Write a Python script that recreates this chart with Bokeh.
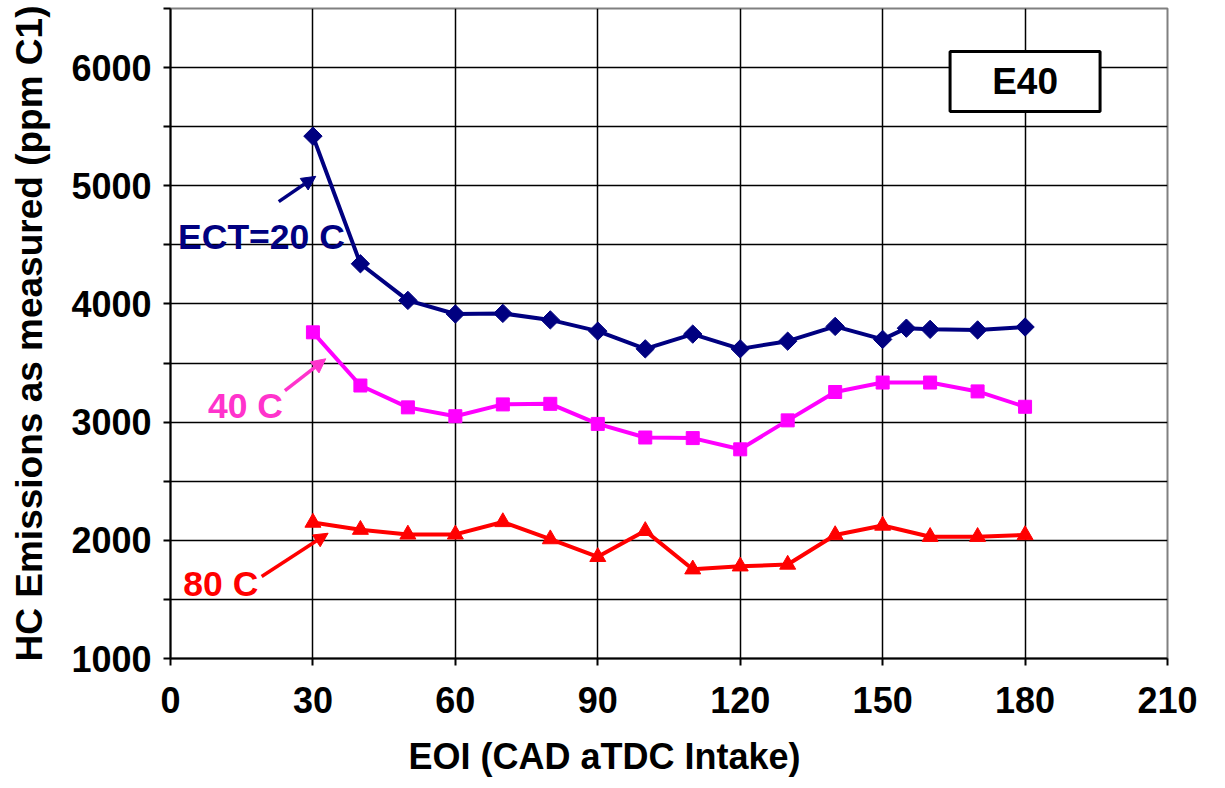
import numpy as np
from bokeh.plotting import figure
from bokeh.models import Range1d, FixedTicker, Arrow, NormalHead, Title
from bokeh.core.properties import value
from bokeh.embed import file_html
from bokeh.resources import INLINE

# HC emissions vs end of injection, for three coolant temperatures (E40 fuel)
eoi_20 = [30, 40, 50, 60, 70, 80, 90, 100, 110, 120, 130, 140, 150, 155, 160, 170, 180]
hc_20 = [5420, 4340, 4030, 3915, 3920, 3865, 3770, 3620, 3745, 3620, 3685, 3810, 3700, 3795, 3785, 3780, 3805]

eoi_40 = [30, 40, 50, 60, 70, 80, 90, 100, 110, 120, 130, 140, 150, 160, 170, 180]
hc_40 = [3760, 3310, 3125, 3050, 3150, 3155, 2985, 2870, 2865, 2770, 3015, 3255, 3335, 3335, 3260, 3130]

eoi_80 = [30, 40, 50, 60, 70, 80, 90, 100, 110, 120, 130, 140, 150, 160, 170, 180]
hc_80 = [2150, 2090, 2050, 2050, 2155, 2010, 1860, 2080, 1755, 1780, 1795, 2045, 2125, 2030, 2030, 2045]

x_ticks = [0, 30, 60, 90, 120, 150, 180, 210]
y_ticks = [1000, 2000, 3000, 4000, 5000, 6000]
y_minor = [1500, 2500, 3500, 4500, 5500, 6500]

series_labels = ["ECT=20 C", "40 C", "80 C"]
fuel_label = "E40"
x_title = "EOI (CAD aTDC Intake)"
y_title = "HC Emissions as measured (ppm C1)"

FONT = value("Liberation Sans")
NAVY = "#000080"
MAGENTA = "#FF00FF"
PINK = "#FF33CC"
RED = "#FF0000"

p = figure(
    frame_width=997, frame_height=650,
    min_border_left=170, min_border_right=58, min_border_top=8, min_border_bottom=130,
    x_range=Range1d(0, 210), y_range=Range1d(1000, 6500),
    output_backend="svg", toolbar_location=None,
)
p.background_fill_color = "white"
p.border_fill_color = "white"
p.outline_line_color = "#808080"
p.outline_line_width = 2

# axes
p.xaxis.ticker = FixedTicker(ticks=x_ticks)
p.yaxis.ticker = FixedTicker(ticks=y_ticks, minor_ticks=y_minor)
for ax in (p.xaxis, p.yaxis):
    ax.axis_line_color = "black"
    ax.axis_line_width = 2
    ax.major_tick_line_color = "black"
    ax.major_tick_line_width = 2
    ax.major_tick_out = 7
    ax.major_tick_in = 0
    ax.major_label_text_font = "Liberation Sans"
    ax.major_label_text_font_style = "bold"
    ax.major_label_text_font_size = "36px"
    ax.major_label_text_color = "black"
    ax.axis_label_text_font = "Liberation Sans"
    ax.axis_label_text_font_style = "bold"
    ax.axis_label_text_font_size = "37px"
    ax.axis_label_text_color = "black"
p.xaxis.major_label_standoff = 21
p.yaxis.major_label_standoff = 12
p.xaxis.minor_tick_line_color = None
p.yaxis.minor_tick_line_color = "black"
p.yaxis.minor_tick_line_width = 2
p.yaxis.minor_tick_out = 7
p.yaxis.minor_tick_in = 0
p.yaxis.axis_label = y_title
p.yaxis.axis_label_standoff = 18

# x-axis title, set a little left of the frame centre
p.add_layout(Title(text=x_title, align="left", offset=238, standoff=37,
                   text_font="Liberation Sans", text_font_style="bold",
                   text_font_size="36px", text_color="black"), "below")

# grid
p.xgrid.grid_line_color = "black"
p.xgrid.grid_line_width = 1.5
p.ygrid.grid_line_color = "black"
p.ygrid.grid_line_width = 1.5
p.ygrid.minor_grid_line_color = "black"
p.ygrid.minor_grid_line_width = 1.5

# series
p.line(eoi_20, hc_20, line_color=NAVY, line_width=4)
p.scatter(eoi_20, hc_20, marker="square", angle=np.pi / 4, size=13,
          fill_color=NAVY, line_color=NAVY)

p.line(eoi_40, hc_40, line_color=MAGENTA, line_width=4)
p.scatter(eoi_40, hc_40, marker="square", size=13, fill_color=MAGENTA, line_color=MAGENTA)

p.line(eoi_80, hc_80, line_color=RED, line_width=4)
p.scatter(eoi_80, hc_80, marker="triangle", size=16, fill_color=RED, line_color=RED)

# series callouts: text anchors and arrow ends (data units)
label_x = [1.6, 7.9, 2.7]
label_y = [4565, 3140, 1632]
label_colors = [NAVY, PINK, RED]
arrow_start = [(22.8, 4866), (24.1, 3267), (19.2, 1694)]
arrow_end = [(30.6, 5080), (32.7, 3536), (33.2, 2060)]

p.text(x=label_x, y=label_y, text=series_labels, text_color=label_colors,
       text_font=FONT, text_font_style="bold", text_font_size="35.5px",
       text_align="left", text_baseline="alphabetic")

for (xs, ys), (xe, ye), c in zip(arrow_start, arrow_end, label_colors):
    p.add_layout(Arrow(
        end=NormalHead(size=14, fill_color=c, line_color=c, line_width=1),
        x_start=xs, y_start=ys, x_end=xe, y_end=ye,
        line_color=c, line_width=3.5,
    ))

# fuel tag box
box_x, box_y = 180, 5883
p.rect(x=[box_x], y=[box_y], width=150, height=60, width_units="screen", height_units="screen",
       fill_color="white", line_color="black", line_width=3)
p.text(x=[box_x], y=[box_y], text=[fuel_label], text_color="black",
       text_font=FONT, text_font_style="bold", text_font_size="37px",
       text_align="center", text_baseline="middle")

open("out.html", "w").write(file_html(p, INLINE))
